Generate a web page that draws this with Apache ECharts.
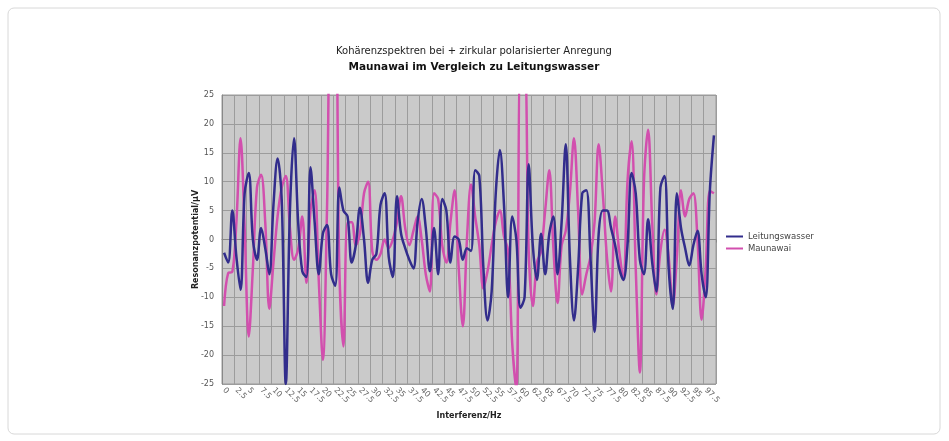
<!DOCTYPE html>
<html lang="de">
<head>
    <meta charset="UTF-8">
    <title>Kohärenzspektren</title>
    <script src="https://cdn.jsdelivr.net/npm/echarts@6/dist/echarts.min.js"></script>
    <style>
        html, body { margin: 0; padding: 0; background: #fff; }
        #main { width: 949px; height: 441px; }
    </style>
</head>
<body>
<div id="main"></div>
<script type="text/javascript">
    // Frequenzen in Hz (Schritt 2.5/3), beschriftet wird jeder dritte Wert
    var freqs = [];
    for (var k = 0; k < 120; k++) {
        freqs.push(String(Math.round(k * 2.5 / 3 * 100) / 100));
    }
    var tickLabels = ['0','2.5','5','7.5','10','12.5','15','17.5','20','22.5','25','27.5','30','32.5','35','37.5','40','42.5','45','47.5',
        '50','52.5','55','57.5','60','62.5','65','67.5','70','72.5','75','77.5','80','82.5','85','87.5','90','92.5','95','97.5'];

    var leitungswasser = [
        -2.3, -4, 5, -3, -8.7, 8, 11.5, 0, -3.5, 2, -1.5, -6, 6, 14, 7, -25, 5, 17.5, 3, -5.5,
        -6.5, 12.5, 3, -6, 1, 2.5, -6, -8, 9, 5, 4, -4, -1, 5.5, 0, -7.5, -3.5, -2.5, 6, 8,
        -3, -6.5, 7.5, 1, -1.5, -3.5, -5, 3, 7, 2, -5.5, 2, -6, 7, 5, -4, 0.5, 0, -3.5, -1.5,
        -2, 12, 11, -5, -14, -9, 8, 15.5, 6, -10, 4, 0, -11.8, -10, 13, -1, -7, 1, -6, 1,
        4, -6, 3, 16.5, -3, -14, -5, 8, 8.5, -3, -16, 1, 5, 5, 2, -1, -5, -7, -1, 11.5,
        8, -3.5, -6, 3.5, -4, -9, 9, 11, -5, -12, 8, 2, -1.5, -4.5, -1, 1.5, -6, -10, 8.3, 18
    ];
    var maunawai = [
        -11.5, -5.8, -5.6, 3, 17.5, 2, -16.8, -5, 9, 11.2, 3, -12, -4, 4, 9, 11, 2, -3.5, -1.7, 4,
        -7.5, 5, 8.5, -7, -20.8, 5, 40, 40, -5, -18.5, 3, 3, -1, 1, 8, 10, -2, -3.5, -2.5, 0,
        -1.5, 0, 3, 7.5, 2, -1, 1.5, 4, 0, -6, -9, 8, 7, -1, -4, 3, 8.5, -5, -15, 0,
        9.5, 4, -1, -8.5, -5.5, -1, 3, 5, 0.5, -2, -18, -26, 30, 30, -2, -11.5, -4, -2, 5, 12,
        -1.5, -11, -1, 1.5, 8, 17.5, 5, -9.5, -6, -3, 3, 16.5, 8, -3, -9, 4, -2, -7, 10, 17,
        -5, -23, 10, 19, 3, -9.5, -2, 1.7, -3, -11.5, -3, 8.5, 4, 7, 8, 0, -13.9, -5, 8.4, 8
    ];

    var myChart = echarts.init(document.getElementById('main'));
    var fontName = 'DejaVu Sans';

    var option = {
        backgroundColor: '#ffffff',
        textStyle: { fontFamily: fontName },
        graphic: [{
            type: 'rect',
            shape: { x: 8, y: 8, width: 932, height: 426, r: 6 },
            style: { fill: 'none', stroke: '#d8d8d8', lineWidth: 1 },
            silent: true
        }],
        title: {
            text: 'Kohärenzspektren bei + zirkular polarisierter Anregung',
            subtext: 'Maunawai im Vergleich zu Leitungswasser',
            left: 469,
            top: 41,
            textAlign: 'center',
            itemGap: 6,
            textStyle: { fontSize: 10, fontWeight: 'normal', color: '#222', fontFamily: fontName },
            subtextStyle: { fontSize: 10.5, fontWeight: 'bold', color: '#111', fontFamily: fontName }
        },
        legend: {
            orient: 'vertical',
            left: 721,
            top: 227,
            itemWidth: 17,
            itemHeight: 8,
            itemGap: 3,
            icon: 'path://M0,3h17v2h-17z',
            textStyle: { fontSize: 8.5, color: '#444', fontFamily: fontName },
            data: ['Leitungswasser', 'Maunawai']
        },
        grid: {
            left: 222,
            right: 233,
            top: 95,
            bottom: 57,
            show: true,
            backgroundColor: '#cacaca',
            borderColor: '#9a9a9a',
            borderWidth: 1
        },
        xAxis: {
            type: 'category',
            boundaryGap: true,
            data: freqs,
            name: 'Interferenz/Hz',
            nameLocation: 'middle',
            nameGap: 28,
            nameMoveOverlap: false,
            nameTextStyle: { fontSize: 8, fontWeight: 'bold', color: '#222' },
            axisLine: { lineStyle: { color: '#888' } },
            axisTick: { show: true, interval: 2, length: 3, lineStyle: { color: '#888' } },
            splitLine: { show: true, interval: 2, lineStyle: { color: '#9c9c9c', width: 1 } },
            axisLabel: {
                interval: 2,
                rotate: -45,
                fontSize: 8,
                color: '#666',
                margin: 5,
                formatter: function (val, idx) {
                    return tickLabels[idx / 3] || '';
                }
            }
        },
        yAxis: {
            type: 'value',
            min: -25,
            max: 25,
            interval: 5,
            name: 'Resonanzpotential/µV',
            nameLocation: 'middle',
            nameGap: 22,
            nameMoveOverlap: false,
            nameTextStyle: { fontSize: 8, fontWeight: 'bold', color: '#222' },
            axisLine: { show: true, lineStyle: { color: '#888' } },
            axisTick: { show: false },
            splitLine: { lineStyle: { color: '#9c9c9c', width: 1 } },
            axisLabel: { fontSize: 8, color: '#555', margin: 8 }
        },
        series: [
            {
                name: 'Leitungswasser',
                type: 'line',
                data: leitungswasser,
                showSymbol: false,
                smooth: 0.35,
                clip: true,
                z: 3,
                lineStyle: { color: '#322d8c', width: 2.5 },
                itemStyle: { color: '#322d8c' }
            },
            {
                name: 'Maunawai',
                type: 'line',
                data: maunawai,
                showSymbol: false,
                smooth: 0.35,
                clip: true,
                z: 2,
                lineStyle: { color: '#d24fae', width: 2.5 },
                itemStyle: { color: '#d24fae' }
            }
        ]
    };

    myChart.setOption(option);
</script>
</body>
</html>
